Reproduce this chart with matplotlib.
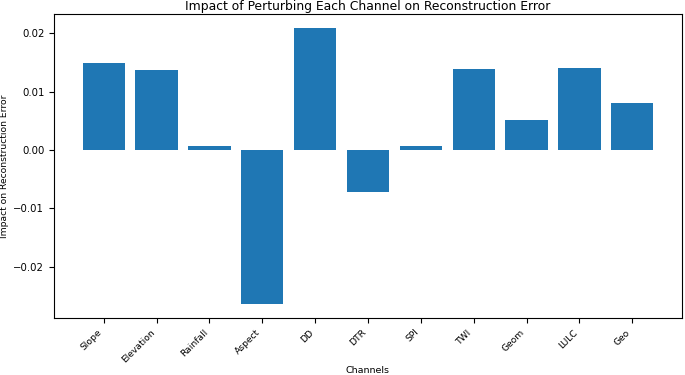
import matplotlib
matplotlib.use("Agg")
import matplotlib.pyplot as plt

channels = ["Slope", "Elevation", "Rainfall", "Aspect", "DD", "DTR", "SPI", "TWI", "Geom", "LULC", "Geo"]
impacts = [0.0149, 0.0137, 0.0007, -0.0264, 0.0209, -0.0072, 0.0007, 0.0138, 0.0052, 0.0140, 0.0081]

fig = plt.figure(figsize=(6.85, 3.75), dpi=100)
ax = fig.add_axes([54/685, 1-318/375, (682-54)/685, (318-14)/375])
ax.bar(channels, impacts, color="#1f77b4")
ax.set_title("Impact of Perturbing Each Channel on Reconstruction Error", fontsize=8.9, pad=3)
ax.set_xlabel("Channels", fontsize=6.8, labelpad=1)
ax.set_ylabel("Impact on Reconstruction Error", fontsize=6.6, labelpad=3)
ax.tick_params(axis="y", labelsize=7.3)
ax.tick_params(axis="x", labelsize=6.6)
plt.setp(ax.get_xticklabels(), rotation=45, ha="right")
fig.savefig("out.png", dpi=100)
